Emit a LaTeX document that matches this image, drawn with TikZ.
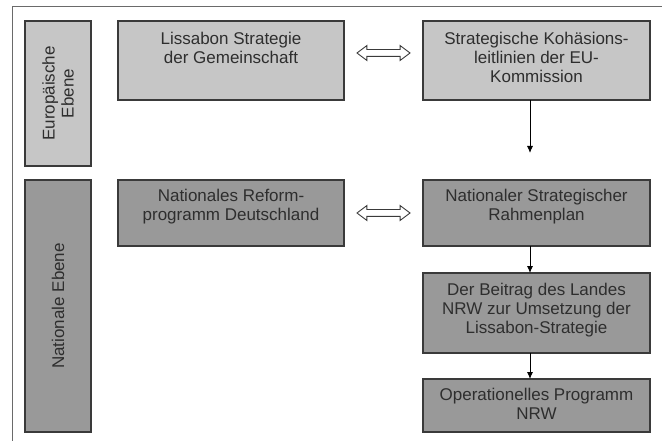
\documentclass[tikz,border=0pt]{standalone}
\usepackage{fontspec}
\setmainfont{Liberation Sans}
\usetikzlibrary{arrows.meta,shapes.arrows}
\definecolor{lightbox}{HTML}{C6C6C6}
\definecolor{darkbox}{HTML}{999999}
\definecolor{edge}{HTML}{3A3A3A}
\definecolor{txtc}{HTML}{2E2E2E}
\definecolor{framec}{HTML}{6A6A6A}
\tikzset{
  boxbase/.style={draw=edge, line width=1.3pt, rectangle, anchor=north west, inner sep=0pt, outer sep=0pt},
  lightb/.style={boxbase, fill=lightbox},
  darkb/.style={boxbase, fill=darkbox},
  txt/.style={anchor=north, inner sep=0pt, align=center, text=txtc, font=\fontsize{17}{19}\selectfont},
  vtxt/.style={rotate=90, inner sep=0pt, align=center, text=txtc, font=\fontsize{17}{19}\selectfont},
  arr/.style={draw=black, line width=0.9pt, -{Latex[length=7pt,width=6pt]}},
  darrow/.style={double arrow, draw=edge, fill=white, line width=0.9pt, minimum height=53pt,
    minimum width=14pt, inner sep=3pt, double arrow head extend=4pt, double arrow tip angle=74}
}
\begin{document}
\begin{tikzpicture}[x=1pt,y=-1pt]
\useasboundingbox (0,0) rectangle (662,441);
% outer frame (cropped at right and bottom)
\draw[framec, line width=1pt] (12,450) -- (12,7) -- (670,7);
% level panels
\node[lightb, minimum width=66pt, minimum height=145pt] (eu) at (25,21) {};
\node[darkb, minimum width=66pt, minimum height=252pt] (nat) at (25,180) {};
\node[vtxt] (euT) at (eu.center) {Europäische\\Ebene};
\node[vtxt] (natT) at (nat.center) {Nationale Ebene};
% boxes
\node[lightb, minimum width=226pt, minimum height=79pt] (lis) at (118,21) {};
\node[lightb, minimum width=227pt, minimum height=79pt] (kom) at (423,21) {};
\node[darkb, minimum width=226pt, minimum height=66pt] (nrp) at (118,180) {};
\node[darkb, minimum width=227pt, minimum height=66pt] (nsr) at (423,180) {};
\node[darkb, minimum width=227pt, minimum height=80pt] (nrw) at (423,273) {};
\node[darkb, minimum width=227pt, minimum height=53pt] (op) at (423,379) {};
% texts
\node[txt] (lisT) at ([yshift=-11pt]lis.north) {Lissabon Strategie\\der Gemeinschaft};
\node[txt] (komT) at ([yshift=-11pt]kom.north) {Strategische Kohäsions-\\leitlinien der EU-\\Kommission};
\node[txt] (nrpT) at ([yshift=-9pt]nrp.north) {Nationales Reform-\\programm Deutschland};
\node[txt] (nsrT) at ([yshift=-9pt]nsr.north) {Nationaler Strategischer\\Rahmenplan};
\node[txt] (nrwT) at ([yshift=-10pt]nrw.north) {Der Beitrag des Landes\\NRW zur Umsetzung der\\Lissabon-Strategie};
\node[txt] (opT) at ([yshift=-9pt]op.north) {Operationelles Programm\\NRW};
% double arrows
\node[darrow] (d1) at (383.5,53) {};
\node[darrow] (d2) at (383.5,213) {};
% vertical arrows
\coordinate (ax) at (530,0);
\coordinate (a1end) at (530,153);
\draw[arr] (kom.south -| ax) -- (a1end);
\draw[arr] (nsr.south -| ax) -- (nrw.north -| ax);
\draw[arr] (nrw.south -| ax) -- (op.north -| ax);
\end{tikzpicture}
\end{document}
